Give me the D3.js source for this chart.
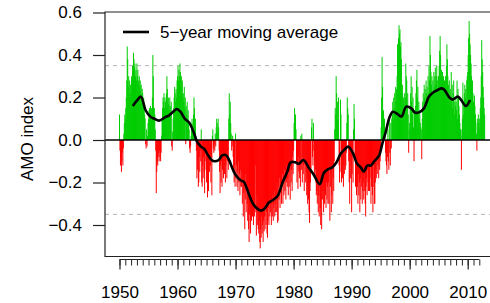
<!DOCTYPE html>
<html>
<head>
<meta charset="utf-8">
<script src="https://cdn.jsdelivr.net/npm/d3@7"></script>
<style>
  body { margin: 0; background: #fff; }
  svg text { font-family: "Liberation Sans", Arial, Helvetica, sans-serif; fill: #000; }
</style>
</head>
<body>
<svg id="chart" width="490" height="303"></svg>
<script>
// monthly AMO index, Jan of each year first
const amo1950s = [
  0.12, -0.05, -0.12, -0.08, -0.15, -0.10, -0.06, -0.12, -0.04, 0.03, 0.08, 0.12,
  0.10, 0.15, 0.20, 0.28, 0.44, 0.38, 0.25, 0.30, 0.22, 0.28, 0.20, 0.26,
  0.22, 0.30, 0.28, 0.35, 0.32, 0.41, 0.38, 0.34, 0.36, 0.30, 0.33, 0.28,
  0.36, 0.30, 0.33, 0.28, 0.26, 0.30, 0.25, 0.28, 0.22, 0.26, 0.20, 0.24,
  0.22, 0.18, 0.20, 0.15, 0.12, 0.10, -0.02, -0.04, 0.05, -0.03, 0.02, 0.08,
  0.10, 0.14, 0.15, 0.12, 0.16, 0.13, 0.15, 0.10, 0.20, 0.40, 0.30, 0.15,
  0.15, 0.12, 0.05, -0.05, -0.25, -0.15, -0.10, -0.12, -0.08, -0.06, -0.10, -0.05,
  -0.08, -0.10, -0.06, 0.02, 0.10, 0.15, 0.20, 0.18, 0.22, 0.15, 0.20, 0.18,
  0.16, 0.22, 0.30, 0.24, 0.15, 0.20, 0.17, 0.14, 0.20, 0.16, 0.12, 0.18,
  -0.03, -0.05, 0.04, 0.10, 0.15, 0.20, 0.25, 0.22, 0.18, 0.24, 0.20, 0.28
];
const amo1960s = [
  0.30, 0.35, 0.28, 0.33, 0.30, 0.36, 0.32, 0.25, 0.30, 0.22, 0.28, 0.20,
  0.22, 0.18, 0.25, 0.15, 0.20, -0.02, 0.16, 0.12, 0.18, 0.10, 0.14, 0.08,
  0.05, -0.04, -0.06, -0.03, 0.02, 0.06, 0.10, 0.04, 0.08, 0.12, 0.20, 0.15,
  0.06, 0.10, 0.02, -0.05, -0.18, -0.14, -0.10, -0.22, -0.20, -0.08, -0.15, -0.05,
  -0.10, 0.05, -0.20, -0.22, -0.12, -0.18, -0.08, -0.15, -0.25, -0.10, -0.05, -0.14,
  -0.20, -0.12, -0.27, -0.18, -0.24, -0.10, -0.15, -0.05, -0.12, -0.20, -0.08, -0.26,
  0.02, 0.05, -0.04, -0.06, -0.02, -0.05, 0.03, -0.03, 0.06, 0.10, 0.08, 0.04,
  0.10, 0.06, -0.05, -0.15, -0.25, -0.12, -0.20, -0.10, -0.22, -0.14, -0.08, -0.18,
  -0.10, -0.16, -0.06, -0.20, -0.12, -0.08, -0.18, -0.10, -0.05, -0.14, 0.10, 0.22,
  0.12, 0.18, 0.08, 0.03, -0.05, -0.03, 0.02, -0.08, -0.15, -0.20, -0.12, -0.22
];
const amo1970s = [
  0.03, -0.18, -0.12, -0.22, -0.15, -0.24, -0.10, -0.20, -0.16, -0.26, -0.14, -0.22,
  -0.22, -0.15, -0.30, -0.18, -0.36, -0.25, -0.20, -0.42, -0.28, -0.16, -0.34, -0.24,
  -0.30, -0.38, -0.26, -0.42, -0.48, -0.35, -0.30, -0.44, -0.32, -0.38, -0.28, -0.36,
  -0.32, -0.40, -0.28, -0.36, -0.30, -0.12, -0.34, -0.45, -0.26, -0.40, -0.32, -0.42,
  -0.44, -0.38, -0.48, -0.51, -0.42, -0.46, -0.36, -0.44, -0.40, -0.48, -0.38, -0.43,
  -0.36, -0.42, -0.30, -0.40, -0.34, -0.44, -0.46, -0.38, -0.32, -0.40, -0.30, -0.36,
  -0.34, -0.28, -0.40, -0.30, -0.36, -0.26, -0.38, -0.32, -0.24, -0.36, -0.30, -0.34,
  -0.26, -0.34, -0.20, -0.39, -0.38, -0.22, -0.28, -0.18, -0.32, -0.24, -0.20, -0.30,
  -0.22, -0.16, -0.30, -0.20, -0.26, -0.14, -0.24, -0.18, -0.28, -0.20, -0.12, -0.22,
  -0.18, -0.26, -0.12, -0.22, -0.15, -0.28, -0.10, -0.20, -0.14, -0.24, -0.08, -0.16
];
const amo1980s = [
  -0.05, 0.08, 0.15, 0.10, 0.12, 0.05, -0.10, -0.20, -0.12, -0.23, -0.08, -0.15,
  -0.18, -0.10, -0.22, 0.02, -0.14, 0.03, -0.20, -0.08, -0.16, -0.12, -0.24, -0.10,
  -0.10, -0.20, -0.15, -0.26, -0.18, -0.30, -0.22, -0.28, -0.34, -0.39, -0.24, -0.20,
  -0.15, 0.06, 0.10, -0.08, -0.12, 0.08, -0.05, -0.18, -0.10, -0.14, -0.20, -0.26,
  -0.24, -0.30, -0.20, -0.34, -0.26, -0.36, -0.22, -0.32, -0.40, -0.28, -0.42, -0.24,
  -0.28, -0.20, -0.34, -0.24, -0.30, -0.18, -0.26, -0.32, -0.20, -0.28, -0.22, -0.30,
  -0.20, -0.30, -0.14, -0.38, -0.22, -0.16, -0.34, -0.26, -0.12, -0.30, -0.18, -0.24,
  -0.10, 0.05, 0.15, 0.12, 0.30, 0.22, 0.10, 0.18, 0.08, 0.20, -0.12, -0.20,
  -0.15, 0.19, 0.12, -0.20, -0.10, -0.18, -0.08, -0.22, -0.12, -0.16, -0.05, -0.14,
  -0.12, -0.06, 0.08, 0.20, 0.15, 0.12, -0.10, -0.20, -0.30, -0.08, -0.18, -0.12
];
const amo1990s = [
  -0.34, -0.16, -0.06, -0.20, 0.05, 0.17, 0.10, -0.08, -0.22, -0.14, -0.26, -0.18,
  -0.22, -0.30, -0.16, -0.26, -0.20, -0.34, -0.18, -0.28, -0.22, -0.16, -0.30, -0.24,
  -0.20, -0.28, -0.16, -0.24, -0.30, -0.36, -0.22, -0.18, -0.26, -0.14, -0.20, -0.24,
  -0.16, -0.24, -0.18, -0.12, -0.30, -0.22, -0.14, -0.26, -0.34, -0.10, -0.22, -0.30,
  -0.30, -0.20, -0.14, -0.18, -0.10, -0.16, -0.08, -0.12, -0.18, -0.06, -0.14, -0.10,
  -0.04, 0.06, 0.20, 0.39, 0.25, 0.12, 0.14, 0.08, 0.10, 0.05, -0.06, -0.10,
  -0.12, -0.16, -0.08, 0.05, -0.10, -0.14, 0.10, -0.06, -0.12, 0.08, -0.04, 0.10,
  0.12, 0.18, 0.10, 0.20, 0.15, 0.22, 0.14, 0.25, 0.18, 0.24, 0.30, 0.45,
  0.40, 0.48, 0.54, 0.50, 0.52, 0.44, 0.46, 0.38, 0.22, 0.26, 0.15, 0.20,
  0.18, 0.22, 0.14, 0.20, 0.36, 0.30, 0.28, 0.16, 0.22, 0.12, -0.06, 0.05
];
const amo2000s = [
  0.08, 0.15, 0.22, 0.30, 0.18, 0.25, 0.12, 0.20, 0.06, -0.10, 0.14, 0.10,
  0.16, 0.22, 0.28, 0.33, 0.20, 0.25, 0.12, 0.18, 0.10, 0.14, 0.08, 0.06,
  0.05, -0.09, 0.10, 0.18, 0.22, 0.15, 0.26, 0.20, 0.24, 0.18, 0.28, 0.22,
  0.25, 0.20, 0.30, 0.22, 0.35, 0.28, 0.49, 0.40, 0.32, 0.26, 0.30, 0.22,
  0.28, 0.22, 0.32, 0.25, 0.30, 0.34, 0.26, 0.30, 0.35, 0.28, 0.24, 0.30,
  0.30, 0.35, 0.42, 0.49, 0.40, 0.30, 0.33, 0.28, 0.32, 0.26, 0.30, 0.25,
  0.28, 0.22, 0.30, 0.25, 0.35, 0.45, 0.38, 0.30, 0.26, 0.22, 0.28, 0.20,
  0.24, 0.18, 0.32, 0.20, 0.26, 0.15, 0.22, 0.28, 0.18, 0.12, 0.20, 0.16,
  0.18, 0.14, 0.28, 0.10, 0.24, 0.20, 0.16, 0.12, 0.08, 0.05, 0.02, -0.14,
  0.05, 0.10, 0.27, 0.12, 0.18, 0.22, 0.26, 0.20, 0.24, 0.18, 0.28, 0.30
];
const amo2010s = [
  0.32, 0.40, 0.48, 0.56, 0.50, 0.45, 0.40, 0.36, 0.30, 0.25, 0.28, 0.22,
  0.18, 0.14, 0.21, 0.16, 0.12, 0.08, 0.03, -0.05, 0.10, 0.06, 0.12, 0.08,
  0.10, 0.05, 0.15, 0.20, 0.30, 0.47, 0.38, 0.32, 0.25, 0.20, 0.15, 0.12
];

// 5-year moving average
const maYears = [
  1952.3, 1953.0, 1953.7, 1954.5, 1955.3, 1956.0, 1956.8, 1957.9, 1958.5, 1959.2,
  1959.9, 1960.5, 1961.3, 1962.0, 1962.8, 1963.4, 1964.0, 1964.7, 1965.2, 1965.9,
  1966.4, 1967.1, 1967.7, 1968.4, 1968.9, 1969.4, 1969.8, 1970.3, 1970.9, 1971.4,
  1971.9, 1972.3, 1972.9, 1973.4, 1974.3, 1974.9, 1975.7, 1976.3, 1977.2, 1978.1,
  1978.9, 1979.5, 1980.3, 1980.9, 1981.7, 1982.6, 1983.5, 1984.5, 1985.2, 1985.9,
  1986.7, 1987.4, 1988.1, 1988.7, 1989.4, 1990.2, 1990.9, 1991.6, 1992.1, 1992.7,
  1993.3, 1993.9, 1994.7, 1995.3, 1995.9, 1996.5, 1997.1, 1997.9, 1998.6, 1999.4,
  2000.3, 2000.9, 2001.6, 2002.5, 2003.3, 2004.1, 2004.8, 2005.5, 2006.0, 2006.8,
  2007.4, 2008.3, 2008.8, 2009.7, 2010.4
];
const maValues = [
  0.160, 0.185, 0.204, 0.140, 0.110, 0.100, 0.091, 0.108, 0.115, 0.132,
  0.146, 0.133, 0.098, 0.082, 0.035, -0.010, -0.030, -0.045, -0.070, -0.095,
  -0.100, -0.094, -0.072, -0.072, -0.095, -0.130, -0.155, -0.175, -0.190, -0.196,
  -0.225, -0.255, -0.295, -0.314, -0.332, -0.326, -0.295, -0.285, -0.265, -0.200,
  -0.150, -0.105, -0.105, -0.112, -0.094, -0.130, -0.165, -0.208, -0.155, -0.138,
  -0.128, -0.105, -0.065, -0.047, -0.031, -0.060, -0.110, -0.130, -0.149, -0.120,
  -0.120, -0.100, -0.075, -0.016, 0.040, 0.105, 0.133, 0.122, 0.110, 0.157,
  0.149, 0.129, 0.130, 0.150, 0.204, 0.225, 0.235, 0.243, 0.235, 0.202,
  0.190, 0.204, 0.191, 0.160, 0.188
];

const yTicks = [-0.4, -0.2, 0.0, 0.2, 0.4, 0.6];
const xMajorTicks = [1950, 1960, 1970, 1980, 1990, 2000, 2010];
const xMinorTicks = d3.range(1950, 2013);
const refLevels = [-0.35, 0.35];
const startYear = 1950;

const amo = [].concat(amo1950s, amo1960s, amo1970s, amo1980s, amo1990s, amo2000s, amo2010s)
  .map((v, i) => ({ t: startYear + i / 12, v }));
const ma = maYears.map((t, i) => ({ t, v: maValues[i] }));

const DIMS = { LEFT: 105, TOP: 12, BOTTOM: 256.5, RIGHT: 496, AXIS_Y: 259.5 };
const FONT_SIZE = 17;
const GREEN = "#00cc00";
const RED = "#ff0000";

const svg = d3.select("#chart");
svg.append("rect").attr("width", 490).attr("height", 303).attr("fill", "#fff");

const x = d3.scaleLinear().domain([1950, 2010]).range([119.5, 467.7]);
const y = d3.scaleLinear().domain([-0.4, 0.6]).range([225, 12.5]);

// dashed reference lines
svg.append("g")
  .selectAll("line")
  .data(refLevels)
  .join("line")
  .attr("x1", DIMS.LEFT)
  .attr("x2", DIMS.RIGHT)
  .attr("y1", (d) => y(d))
  .attr("y2", (d) => y(d))
  .attr("stroke", "#b4b4b4")
  .attr("stroke-width", 1)
  .attr("stroke-dasharray", "4,4");

// monthly bars
svg.append("g")
  .selectAll("line")
  .data(amo)
  .join("line")
  .attr("x1", (d) => x(d.t))
  .attr("x2", (d) => x(d.t))
  .attr("y1", y(0))
  .attr("y2", (d) => y(d.v))
  .attr("stroke", (d) => (d.v >= 0 ? GREEN : RED))
  .attr("stroke-width", 1);

// zero line
svg.append("line")
  .attr("x1", DIMS.LEFT)
  .attr("x2", DIMS.RIGHT)
  .attr("y1", y(0))
  .attr("y2", y(0))
  .attr("stroke", "#000")
  .attr("stroke-width", 1.3);

// moving average
svg.append("path")
  .datum(ma)
  .attr("fill", "none")
  .attr("stroke", "#000")
  .attr("stroke-width", 2.6)
  .attr("stroke-linejoin", "round")
  .attr("d", d3.line().x((d) => x(d.t)).y((d) => y(d.v)).curve(d3.curveCatmullRom));

// box (left, top, bottom)
svg.append("path")
  .attr("fill", "none")
  .attr("stroke", "#222")
  .attr("stroke-width", 1.2)
  .attr("d", `M${DIMS.RIGHT},${DIMS.TOP}H${DIMS.LEFT}V${DIMS.BOTTOM}H${DIMS.RIGHT}`);

// y axis
const yAxis = svg.append("g")
  .attr("transform", `translate(${DIMS.LEFT},0)`)
  .call(d3.axisLeft(y).tickValues(yTicks).tickSize(12).tickPadding(11).tickFormat(d3.format(".1f")));
yAxis.select(".domain").remove();
yAxis.selectAll("line").attr("stroke", "#222").attr("stroke-width", 1.2);
yAxis.selectAll("text").attr("font-size", FONT_SIZE).attr("font-family", null);

// x axis: minor ticks, then major ticks with labels
const xMinor = svg.append("g")
  .attr("transform", `translate(0,${DIMS.AXIS_Y})`)
  .call(d3.axisBottom(x).tickValues(xMinorTicks).tickSize(6).tickFormat(""));
xMinor.select(".domain").remove();
xMinor.selectAll("line").attr("stroke", "#222");

const xAxis = svg.append("g")
  .attr("transform", `translate(0,${DIMS.AXIS_Y})`)
  .call(d3.axisBottom(x).tickValues(xMajorTicks).tickSize(10).tickPadding(16).tickFormat(d3.format("d")));
xAxis.select(".domain").remove();
xAxis.selectAll("line").attr("stroke", "#222").attr("stroke-width", 1.2);
xAxis.selectAll("text").attr("font-size", FONT_SIZE).attr("font-family", null);

svg.append("line")
  .attr("x1", x(1950))
  .attr("x2", x(2012))
  .attr("y1", DIMS.AXIS_Y)
  .attr("y2", DIMS.AXIS_Y)
  .attr("stroke", "#222")
  .attr("stroke-width", 1.2);

// y label
svg.append("text")
  .attr("transform", "translate(27,139) rotate(-90)")
  .attr("text-anchor", "middle")
  .attr("dominant-baseline", "central")
  .attr("font-size", FONT_SIZE)
  .text("AMO index");

// legend
const legend = svg.append("g").attr("transform", "translate(123,32)");
legend.append("line")
  .attr("x1", 0).attr("x2", 26)
  .attr("stroke", "#000")
  .attr("stroke-width", 2.6);
legend.append("text")
  .attr("x", 37)
  .attr("dominant-baseline", "central")
  .attr("font-size", FONT_SIZE)
  .text("5\u2212year moving average");
</script>
</body>
</html>
